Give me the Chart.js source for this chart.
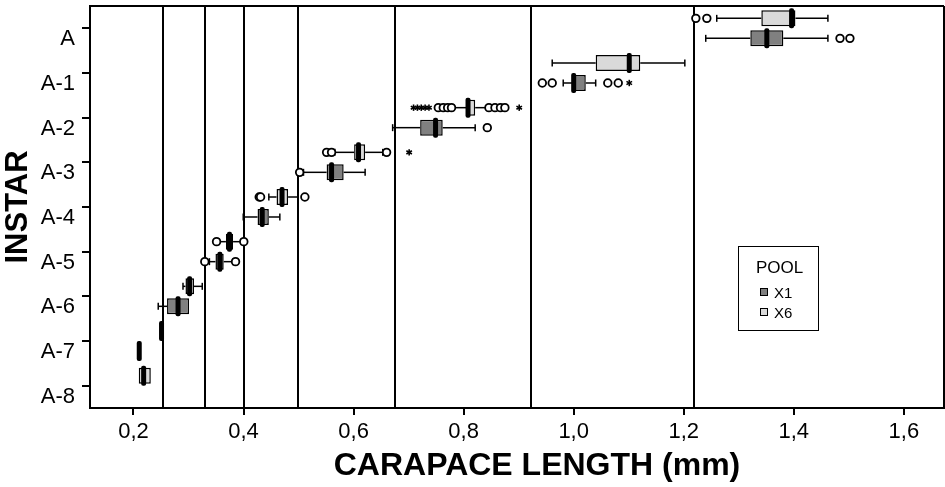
<!DOCTYPE html>
<html>
<head>
<meta charset="utf-8">
<script src="https://cdn.jsdelivr.net/npm/chart.js@4.4.0/dist/chart.umd.min.js"></script>
<style>
body { margin: 0; background: #fff; }
#wrap { position: relative; width: 945px; height: 487px; }
#legend { position: absolute; left: 738px; top: 246px; width: 81px; height: 85px; border: 1.5px solid #000;
  box-sizing: border-box; font-family: 'Liberation Sans', Arial, sans-serif; color: #000; }
#legend .ttl { position: absolute; left: 17px; top: 11px; font-size: 17px; }
#legend .sw { position: absolute; left: 21px; width: 6px; height: 6px; border: 1px solid #000; }
#legend .lb { position: absolute; left: 35px; font-size: 15px; }
</style>
</head>
<body>
<div id="wrap">
  <canvas id="chart" width="945" height="487"></canvas>
  <div id="legend">
    <div class="ttl">POOL</div>
    <div class="sw" style="top:41px;background:#808080"></div><div class="lb" style="top:37px">X1</div>
    <div class="sw" style="top:61px;background:#dadada"></div><div class="lb" style="top:57px">X6</div>
  </div>
</div>
<script>
// instars, top to bottom
var labels = ['A', 'A-1', 'A-2', 'A-3', 'A-4', 'A-5', 'A-6', 'A-7', 'A-8'];

// pool X6 (light boxes)
var x6Lo  = [1.260, 0.961, 0.782, 0.566, 0.446, 0.356, 0.290, 0.2475, 0.2096];
var x6Q1  = [1.341, 1.040, 0.807, 0.601, 0.460, 0.368, 0.2945, 0.2475, 0.2096];
var x6Med = [1.396, 1.101, 0.808, 0.609, 0.470, 0.3745, 0.302, 0.251, 0.2185];
var x6Q3  = [1.403, 1.121, 0.821, 0.621, 0.481, 0.381, 0.310, 0.2535, 0.2315];
var x6Hi  = [1.462, 1.202, 0.842, 0.653, 0.4995, 0.396, 0.325, 0.2535, 0.2315];
var x6Circles = [[1.222, 1.242], [], [0.754, 0.763, 0.771, 0.778, 0.846, 0.857, 0.867, 0.875],
                 [0.551, 0.560, 0.660], [0.4285, 0.431, 0.5115], [0.351, 0.4005], [], [], []];
var x6Stars = [[], [], [0.709, 0.716, 0.723, 0.730, 0.737, 0.901], [0.701], [], [], [], [], []];

// pool X1 (dark boxes)
var x1Lo  = [1.240, 0.981, 0.671, 0.509, 0.3995, 0.338, 0.245, 0.2075, null];
var x1Q1  = [1.321, 0.997, 0.721, 0.551, 0.4255, 0.349, 0.261, 0.2075, null];
var x1Med = [1.351, 1.000, 0.749, 0.560, 0.434, 0.357, 0.281, 0.2105, null];
var x1Q3  = [1.381, 1.022, 0.762, 0.582, 0.446, 0.364, 0.301, 0.2135, null];
var x1Hi  = [1.462, 1.040, 0.821, 0.621, 0.466, 0.381, 0.301, 0.2135, null];
var x1Circles = [[1.484, 1.502], [0.943, 0.961, 1.062, 1.081], [0.843], [0.502], [], [0.3296, 0.3855], [], [], []];
var x1Stars = [[], [1.101], [], [], [], [], [], [], []];

var xTicks = [0.2, 0.4, 0.6, 0.8, 1.0, 1.2, 1.4, 1.6];
var dividers = [0.2545, 0.330, 0.401, 0.499, 0.675, 0.922, 1.219]; // vertical reference lines
var xTitle = 'CARAPACE LENGTH (mm)';

var pools = [
    { lo: x6Lo, q1: x6Q1, med: x6Med, q3: x6Q3, hi: x6Hi, circles: x6Circles, stars: x6Stars },
    { lo: x1Lo, q1: x1Q1, med: x1Med, q3: x1Q3, hi: x1Hi, circles: x1Circles, stars: x1Stars }
];

function boxData(p) {
    return p.q1.map(function (v, i) { return v == null ? null : [v, p.q3[i]]; });
}

function line(ctx, x1, y1, x2, y2) {
    ctx.beginPath();
    ctx.moveTo(x1, y1);
    ctx.lineTo(x2, y2);
    ctx.stroke();
}

var boxParts = {
    id: 'boxParts',
    beforeDatasetsDraw: function (chart) {
        var ctx = chart.ctx, a = chart.chartArea, x = chart.scales.x;
        ctx.save();
        ctx.strokeStyle = '#000';
        ctx.lineWidth = 2;
        dividers.forEach(function (v) {
            var px = Math.round(x.getPixelForValue(v));
            line(ctx, px, a.top, px, a.bottom);
        });
        // whiskers
        ctx.lineWidth = 1.5;
        pools.forEach(function (p, di) {
            chart.getDatasetMeta(di).data.forEach(function (bar, i) {
                if (p.q1[i] == null) return;
                var y = bar.y;
                if (p.lo[i] < p.q1[i]) {
                    var l = x.getPixelForValue(p.lo[i]);
                    line(ctx, l, y, x.getPixelForValue(p.q1[i]), y);
                    line(ctx, l, y - 3.5, l, y + 3.5);
                }
                if (p.hi[i] > p.q3[i]) {
                    var h = x.getPixelForValue(p.hi[i]);
                    line(ctx, x.getPixelForValue(p.q3[i]), y, h, y);
                    line(ctx, h, y - 3.5, h, y + 3.5);
                }
            });
        });
        ctx.restore();
    },
    afterDatasetsDraw: function (chart) {
        var ctx = chart.ctx, a = chart.chartArea, x = chart.scales.x;
        ctx.save();
        pools.forEach(function (p, di) {
            chart.getDatasetMeta(di).data.forEach(function (bar, i) {
                if (p.q1[i] == null) return;
                var y = bar.y;
                // median
                ctx.fillStyle = '#000';
                ctx.beginPath();
                ctx.roundRect(x.getPixelForValue(p.med[i]) - 2.5, y - 10, 5, 20, 2);
                ctx.fill();
                // outliers
                ctx.lineWidth = 1.8;
                ctx.strokeStyle = '#000';
                ctx.fillStyle = '#fff';
                p.circles[i].forEach(function (v) {
                    ctx.beginPath();
                    ctx.arc(x.getPixelForValue(v), y, 3.8, 0, Math.PI * 2);
                    ctx.fill();
                    ctx.stroke();
                });
                ctx.lineWidth = 1.6;
                p.stars[i].forEach(function (v) {
                    var cx = x.getPixelForValue(v);
                    for (var k = 0; k < 3; k++) {
                        var ang = Math.PI / 2 + k * Math.PI / 3;
                        line(ctx, cx - 3.2 * Math.cos(ang), y - 3.2 * Math.sin(ang), cx + 3.2 * Math.cos(ang), y + 3.2 * Math.sin(ang));
                    }
                });
            });
        });
        // frame top and right
        ctx.strokeStyle = '#000';
        ctx.lineWidth = 2;
        line(ctx, a.left, a.top, a.right, a.top);
        line(ctx, a.right, a.top, a.right, a.bottom);
        // x axis title, sits a bit right of the plot centre in the original
        ctx.fillStyle = '#000';
        ctx.font = "bold 32px 'Liberation Sans', Arial, sans-serif";
        ctx.textAlign = 'center';
        ctx.textBaseline = 'middle';
        ctx.fillText(xTitle, 537, 466);
        ctx.restore();
    }
};

Chart.defaults.font.family = "'Liberation Sans', Arial, sans-serif";
Chart.defaults.color = '#000';

new Chart(document.getElementById('chart'), {
    type: 'bar',
    data: {
        labels: labels,
        datasets: [
            { label: 'X6', data: boxData(pools[0]), backgroundColor: '#dadada', borderColor: '#000', borderWidth: 1.5, borderSkipped: false },
            { label: 'X1', data: boxData(pools[1]), backgroundColor: '#808080', borderColor: '#000', borderWidth: 1.5, borderSkipped: false }
        ]
    },
    options: {
        indexAxis: 'y',
        responsive: false,
        animation: false,
        categoryPercentage: 0.895,
        barPercentage: 0.8,
        layout: { padding: { top: 6, right: 1, left: 0, bottom: 0 } },
        plugins: { legend: { display: false }, tooltip: { enabled: false } },
        scales: {
            x: {
                type: 'linear',
                min: 0.121,
                max: 1.673,
                afterBuildTicks: function (s) { s.ticks = xTicks.map(function (v) { return { value: v }; }); },
                afterFit: function (s) { s.height = 79; s.paddingLeft = 0; s.paddingRight = 0; },
                ticks: {
                    font: { size: 22 },
                    padding: 4,
                    maxRotation: 0,
                    callback: function (v) { return v.toFixed(1).replace('.', ','); }
                },
                grid: { drawOnChartArea: false, tickLength: 7, color: '#000', lineWidth: 2 },
                border: { color: '#000', width: 2 }
            },
            y: {
                afterFit: function (s) { s.width = 90; s.paddingTop = 0; s.paddingBottom = 0; },
                ticks: { font: { size: 22 }, padding: 7, labelOffset: 11 },
                grid: { drawOnChartArea: false, offset: false, tickLength: 8, color: '#000', lineWidth: 2 },
                border: { color: '#000', width: 2 },
                title: { display: true, text: 'INSTAR', font: { size: 31, weight: 'bold' }, padding: 0 }
            }
        }
    },
    plugins: [boxParts]
});
</script>
</body>
</html>
